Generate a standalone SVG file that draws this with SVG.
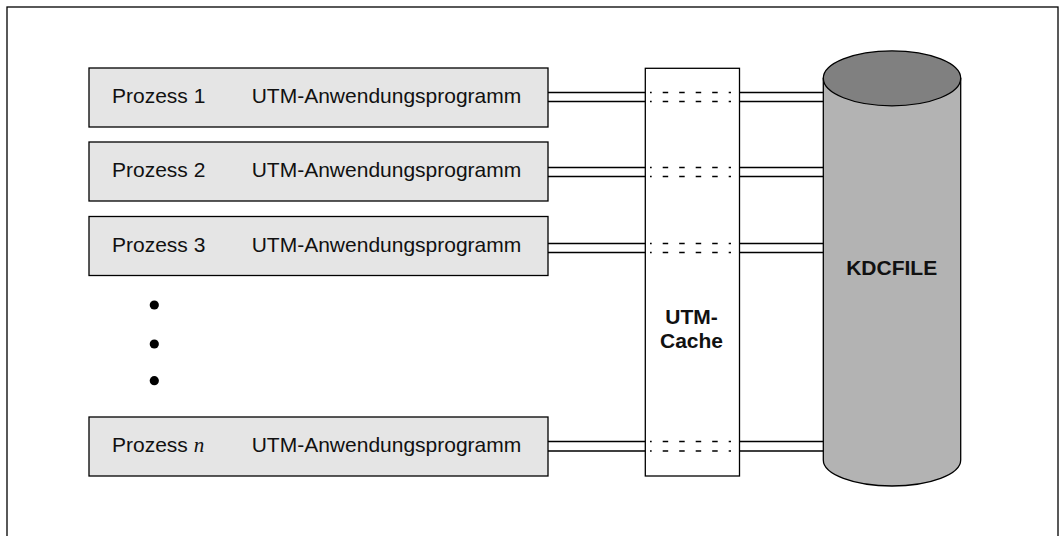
<svg xmlns="http://www.w3.org/2000/svg" width="1062" height="536" viewBox="0 0 1062 536">
<style>
.box{fill:#e5e5e5;stroke:#000;stroke-width:1.3}
.t{font-family:"Liberation Sans",Arial,sans-serif;font-size:21px;fill:#111}
.b{font-family:"Liberation Sans",Arial,sans-serif;font-size:21px;font-weight:bold;fill:#111;text-anchor:middle}
.ln{stroke:#000;stroke-width:1.3;fill:none}
.dash{stroke:#000;stroke-width:1.3;fill:none;stroke-dasharray:5.5 11;stroke-dashoffset:3.8}
</style>
<rect width="1062" height="536" fill="#fff"/>
<rect x="7" y="7" width="1051" height="540" fill="none" stroke="#000" stroke-width="1.3"/>
<g id="connectors">
<path class="ln" d="M548,92.5H645M548,101.5H645M739.5,92.5H823M739.5,101.5H823"/>
<path class="dash" d="M650,92.5H731M650,101.5H731"/>
<path class="ln" d="M548,167.5H645M548,176.5H645M739.5,167.5H823M739.5,176.5H823"/>
<path class="dash" d="M650,167.5H731M650,176.5H731"/>
<path class="ln" d="M548,243.5H645M548,252.5H645M739.5,243.5H823M739.5,252.5H823"/>
<path class="dash" d="M650,243.5H731M650,252.5H731"/>
<path class="ln" d="M548,441.5H645M548,451H645M739.5,441.5H823M739.5,451H823"/>
<path class="dash" d="M650,441.5H731M650,451H731"/>
</g>
<g id="p1">
<rect class="box" x="89" y="68" width="459" height="59"/>
<text class="t" x="112" y="103.3">Prozess 1</text>
<text class="t" x="251.7" y="103.3">UTM-Anwendungsprogramm</text>
</g>
<g id="p2">
<rect class="box" x="89" y="142" width="459" height="59"/>
<text class="t" x="112" y="176.7">Prozess 2</text>
<text class="t" x="251.7" y="176.7">UTM-Anwendungsprogramm</text>
</g>
<g id="p3">
<rect class="box" x="89" y="216.5" width="459" height="59"/>
<text class="t" x="112" y="251.7">Prozess 3</text>
<text class="t" x="251.7" y="251.7">UTM-Anwendungsprogramm</text>
</g>
<g id="dots" fill="#000">
<circle cx="154.3" cy="305" r="4.6"/>
<circle cx="154.3" cy="344" r="4.6"/>
<circle cx="154.3" cy="380.7" r="4.6"/>
</g>
<g id="pn">
<rect class="box" x="89" y="417" width="459" height="59"/>
<text class="t" x="112" y="451.7">Prozess <tspan font-family="'Liberation Serif','Times New Roman',serif" font-style="italic">n</tspan></text>
<text class="t" x="251.7" y="451.7">UTM-Anwendungsprogramm</text>
</g>
<g id="cache">
<rect x="645.3" y="68.3" width="94.2" height="407.7" fill="none" stroke="#000" stroke-width="1.3"/>
<text class="b" x="691.5" y="324">UTM-</text>
<text class="b" x="691.5" y="347.7">Cache</text>
</g>
<g id="kdcfile">
<path d="M823.3,78.3V460A68.7,26 0 0 0 960.7,460V78.3Z" fill="#b3b3b3" stroke="#000" stroke-width="1.3"/>
<ellipse cx="892" cy="78.3" rx="68.7" ry="27.5" fill="#808080" stroke="#000" stroke-width="1.3"/>
<text class="b" x="891.7" y="275">KDCFILE</text>
</g>
</svg>
